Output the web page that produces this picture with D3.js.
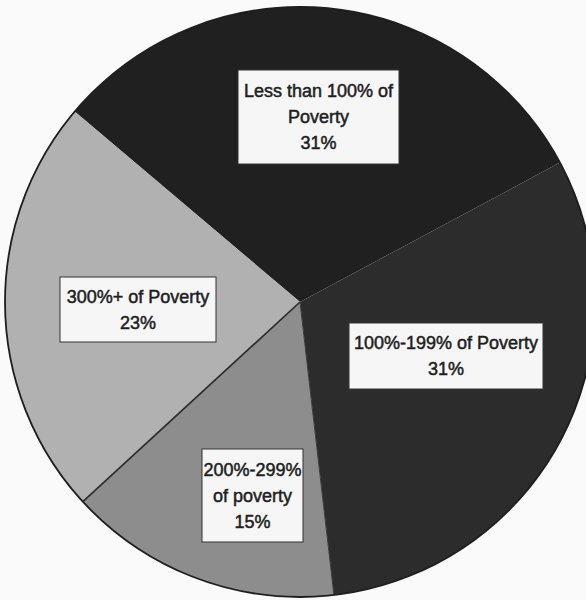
<!DOCTYPE html>
<html>
<head>
<meta charset="utf-8">
<script src="https://cdn.jsdelivr.net/npm/d3@7"></script>
<style>
  html, body { margin: 0; padding: 0; background: #fafafa; }
  svg { display: block; }
  text { font-family: "Liberation Sans", Arial, sans-serif; }
</style>
</head>
<body>
<svg id="chart" width="586" height="600"></svg>
<script>
// ---- data ----
const categories = ["Less than 100% of Poverty", "100%-199% of Poverty", "200%-299% of poverty", "300%+ of Poverty"];
const values = [31, 31, 15, 23];
const labelLines = [
  ["Less than 100% of", "Poverty", "31%"],
  ["100%-199% of Poverty", "31%"],
  ["200%-299%", "of poverty", "15%"],
  ["300%+ of Poverty", "23%"]
];
const sliceColors = ["#202020", "#2c2c2c", "#8d8d8d", "#b1b1b1"];

// ---- layout ----
const width = 586, height = 600;
const cx = 300, cy = 302, radius = 295;
const startAngle = -49.8 * Math.PI / 180;
// label box layout: [x, y, w, h]
const boxes = [
  [238, 70, 161, 94],
  [349, 323, 194, 66],
  [202, 449, 101, 93],
  [60, 277, 156, 65]
];
const lineH = 26;

const svg = d3.select("#chart");
const g = svg.append("g").attr("transform", `translate(${cx},${cy})`);

const pie = d3.pie().sort(null).value(d => d)
  .startAngle(startAngle).endAngle(startAngle + 2 * Math.PI);
const arcs = pie(values);
const arc = d3.arc().innerRadius(0).outerRadius(radius);

g.selectAll("path.slice").data(arcs).join("path")
  .attr("class", "slice")
  .attr("d", arc)
  .attr("fill", (d, i) => sliceColors[i])
  .attr("stroke", "none");

// dark separator between the two light slices
const sep = arcs[2].endAngle;
g.append("line")
  .attr("x1", 0).attr("y1", 0)
  .attr("x2", radius * Math.sin(sep)).attr("y2", -radius * Math.cos(sep))
  .attr("stroke", "#2a2a2a").attr("stroke-width", 1.6);
const sep2 = arcs[2].startAngle;
g.append("line")
  .attr("x1", 0).attr("y1", 0)
  .attr("x2", radius * Math.sin(sep2)).attr("y2", -radius * Math.cos(sep2))
  .attr("stroke", "#3a3a3a").attr("stroke-width", 1);

// outline
g.append("circle").attr("r", radius)
  .attr("fill", "none").attr("stroke", "#1e1e1e").attr("stroke-width", 1.8);

// labels
const lg = svg.append("g");
boxes.forEach((b, i) => {
  const [x, y, w, h] = b;
  lg.append("rect").attr("x", x).attr("y", y).attr("width", w).attr("height", h)
    .attr("fill", "#f6f6f6").attr("stroke", "#333").attr("stroke-width", 1);
  const lines = labelLines[i];
  const midY = y + h / 2;
  const t = lg.append("text")
    .attr("text-anchor", "middle")
    .attr("font-size", 18)
    .attr("fill", "#1e1e1e")
    .attr("stroke", "#1e1e1e").attr("stroke-width", 0.5);
  lines.forEach((s, k) => {
    t.append("tspan")
      .attr("x", x + w / 2)
      .attr("y", midY + (k - (lines.length - 1) / 2) * lineH)
      .attr("dy", "0.35em")
      .text(s);
  });
});
</script>
</body>
</html>
